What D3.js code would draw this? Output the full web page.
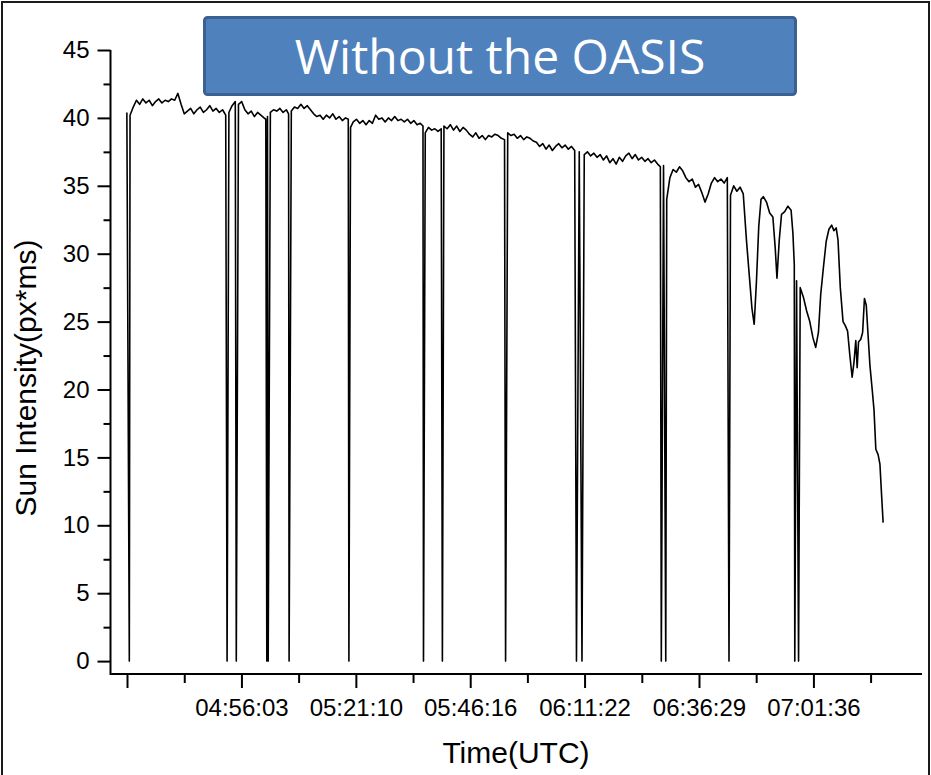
<!DOCTYPE html>
<html><head><meta charset="utf-8">
<script src="https://cdn.jsdelivr.net/npm/d3@7"></script>
<style>body{margin:0;background:#fff;}svg{display:block;}</style>
</head><body>
<svg id="chart" width="931" height="775"></svg>
<script>
// ---- DATA (time in minutes after 04:00 UTC) ----
const timeMin = [
  30.9, 31.6, 32.3, 33.0, 33.7, 34.4, 35.1, 35.8, 36.5, 37.2,
  37.9, 38.6, 39.3, 40.0, 40.7, 41.4, 42.1, 42.8, 43.5, 44.2,
  44.9, 45.6, 46.3, 47.0, 47.7, 48.4, 49.1, 49.8, 50.5, 51.2,
  51.9, 52.6, 53.3, 54.0, 54.7, 55.4, 56.1, 56.8, 57.5, 58.2,
  58.9, 59.6, 60.3, 61.0, 61.4, 61.77, 62.4, 63.1, 63.8, 64.5,
  65.2, 65.9, 66.4, 67.0, 67.7, 68.4, 69.1, 69.8, 70.5, 71.2,
  71.9, 72.6, 73.3, 74.0, 74.7, 75.4, 76.1, 76.8, 77.5, 78.2,
  78.9, 79.5, 80.0, 80.6, 81.3, 82.0, 82.7, 83.4, 84.1, 84.8,
  85.5, 86.2, 86.9, 87.6, 88.3, 89.0, 89.7, 90.4, 91.1, 91.8,
  92.5, 93.2, 93.9, 94.6, 95.3, 95.9, 96.4, 97.1, 97.8, 98.5,
  99.2, 99.9, 100.5, 101.2, 101.9, 102.6, 103.3, 104.0, 104.7, 105.4,
  106.1, 106.8, 107.5, 108.2, 108.9, 109.6, 110.3, 111.0, 111.7, 112.4,
  113.1, 113.8, 114.5, 115.2, 115.9, 116.6, 117.3, 118.0, 118.7, 119.4,
  120.1, 120.8, 121.5, 122.2, 122.9, 123.6, 124.3, 125.0, 125.7, 126.4,
  127.1, 127.8, 128.5, 129.2, 130.2, 131.3, 132.0, 132.7, 133.4, 134.1,
  134.8, 135.5, 136.2, 136.9, 137.6, 138.3, 139.0, 139.7, 140.4, 141.1,
  141.8, 142.5, 143.2, 143.9, 144.6, 145.3, 146.0, 146.7, 147.4, 148.0,
  148.7, 149.4, 150.1, 150.8, 151.5, 152.2, 152.9, 153.6, 154.3, 155.0,
  155.7, 156.4, 157.1, 157.8, 158.5, 159.2, 159.9, 160.6, 161.3, 162.0,
  162.7, 163.4, 164.1, 164.8, 165.5, 166.2, 166.9, 167.5, 168.1, 168.6,
  169.1, 169.6, 170.1, 170.6, 171.3, 172.0, 172.7, 173.2, 173.6, 174.1,
  174.6, 175.3, 176.0, 176.7, 177.1, 177.4, 177.9, 178.7, 179.4, 180.1,
  180.8, 181.5, 182.1, 182.7, 183.2, 183.8, 184.4, 185.0, 185.6, 186.1,
  186.6, 187.0, 187.5, 188.1, 188.6, 189.1, 189.6, 190.1, 190.5, 190.9,
  191.2, 191.5, 192.0, 192.4, 192.8, 193.2, 193.6, 194.0, 194.5, 194.9,
  195.3, 195.8, 196.2, 196.6, 196.9
];
const intensity = [
  40.4, 40.2, 40.8, 41.3, 41.0, 41.4, 41.1, 41.3, 40.9, 41.2,
  41.4, 41.1, 41.3, 41.2, 41.4, 41.3, 41.8, 41.0, 40.3, 40.5,
  40.7, 40.3, 40.6, 40.8, 40.4, 40.6, 40.9, 40.5, 40.7, 40.4,
  40.6, 40.2, 40.4, 40.9, 41.2, 41.0, 41.2, 40.6, 40.3, 40.5,
  40.1, 40.4, 40.2, 40.0, 39.9, 40.1, 40.4, 40.6, 40.5, 40.7,
  40.4, 40.6, 40.3, 40.5, 40.8, 40.7, 41.0, 40.7, 40.9, 40.6,
  40.3, 40.1, 40.2, 39.9, 40.2, 40.0, 40.3, 39.9, 40.1, 39.8,
  40.0, 39.9, 39.3, 39.7, 39.9, 39.6, 39.8, 39.5, 39.8, 39.6,
  40.2, 39.9, 40.0, 39.7, 40.0, 39.8, 40.1, 39.8, 39.9, 39.7,
  39.9, 39.6, 39.8, 39.5, 39.6, 39.4, 38.9, 39.3, 39.1, 39.2,
  39.0, 39.2, 39.4, 39.2, 39.5, 39.1, 39.4, 39.0, 39.3, 39.1,
  38.8, 38.6, 38.9, 38.5, 38.7, 38.4, 38.7, 38.6, 38.8, 38.7,
  38.5, 38.4, 38.9, 38.7, 38.8, 38.5, 38.7, 38.4, 38.6, 38.5,
  38.3, 38.2, 37.9, 38.1, 37.7, 38.0, 37.6, 37.9, 38.1, 37.8,
  38.0, 37.7, 37.9, 37.6, 37.5, 37.3, 37.5, 37.2, 37.4, 37.1,
  37.3, 36.9, 37.2, 36.7, 37.0, 36.6, 37.1, 36.8, 37.2, 37.4,
  37.0, 37.3, 36.9, 37.1, 36.8, 37.0, 36.7, 36.9, 36.6, 36.4,
  36.5, 34.0, 35.6, 36.2, 36.0, 36.4, 36.1, 35.6, 35.3, 35.5,
  34.9, 35.1, 34.5, 33.8, 34.4, 35.2, 35.6, 35.3, 35.5, 35.2,
  35.6, 34.3, 35.0, 34.6, 34.9, 34.4, 31.0, 28.5, 26.0, 24.8,
  28.0, 32.0, 34.0, 34.2, 33.8, 33.0, 32.7, 30.5, 28.2, 31.0,
  32.9, 33.1, 33.5, 33.2, 31.5, 29.2, 28.0, 27.5, 26.8, 25.8,
  25.0, 23.8, 23.1, 24.2, 27.0, 29.0, 30.9, 31.8, 32.1, 31.7,
  31.9, 31.0, 27.5, 25.0, 24.7, 24.3, 22.5, 20.9, 22.0, 23.6,
  21.6, 23.5, 23.7, 24.2, 26.7, 26.2, 24.0, 21.8, 20.0, 18.5,
  15.6, 15.2, 14.5, 12.0, 10.2
];
// samples where the sensor dropped to zero
const dropoutTimes = [31.44, 52.90, 54.92, 61.62, 61.92, 66.51, 79.64, 96.01, 100.16,
  114.03, 129.59, 130.80, 148.21, 149.19, 163.07, 177.51, 178.34];
const dropoutValue = 0;

const majorTickTimes  = ["04:30:56", "04:56:03", "05:21:10", "05:46:16", "06:11:22", "06:36:29", "07:01:36"];
const majorTickLabels = ["", "04:56:03", "05:21:10", "05:46:16", "06:11:22", "06:36:29", "07:01:36"];
const minorTickTimes  = ["04:43:30", "05:08:36", "05:33:43", "05:58:49", "06:23:56", "06:49:02", "07:14:09"];
const xAxisRange = ["04:27:12", "07:25:26"];
const yMajorTicks = [0, 5, 10, 15, 20, 25, 30, 35, 40, 45];
const yMinorTicks = [2.5, 7.5, 12.5, 17.5, 22.5, 27.5, 32.5, 37.5, 42.5];
const yAxisRange = [-0.95, 45];

const chartTitle = "Without the OASIS";
const xTitle = "Time(UTC)";
const yTitle = "Sun Intensity(px*ms)";

// ---- DRAWING ----
const toMin = s => { const [h, m, sec] = s.split(":").map(Number); return (h - 4) * 60 + m + sec / 60; };

const svg = d3.select("#chart");
const font = "'Liberation Sans', Arial, sans-serif";

const x = d3.scaleLinear().domain(xAxisRange.map(toMin)).range([110, 922]);
const y = d3.scaleLinear().domain(yAxisRange).range([674, 50]);

// outer frame
svg.append("path").attr("d", "M2,780V2H929V780")
  .attr("fill", "none").attr("stroke", "#1a1a1a").attr("stroke-width", 2);

// data line
const pts = timeMin.map((t, i) => ({t, v: intensity[i]}))
  .concat(dropoutTimes.map(t => ({t, v: dropoutValue})))
  .sort((a, b) => a.t - b.t);
svg.append("path").datum(pts)
  .attr("d", d3.line().x(d => x(d.t)).y(d => y(d.v)))
  .attr("fill", "none").attr("stroke", "#000").attr("stroke-width", 1.6)
  .attr("stroke-linejoin", "round");

// Y axis
const yAxisG = svg.append("g").attr("transform", "translate(110.5,0)")
  .call(d3.axisLeft(y).tickValues(yMajorTicks).tickSize(13).tickPadding(8).tickFormat(d3.format("d")));
yAxisG.select(".domain").remove();
yAxisG.selectAll(".tick line").attr("stroke", "#000").attr("stroke-width", 2);
yAxisG.selectAll(".tick text").attr("font-family", font).attr("font-size", 24).attr("fill", "#000");
const yMinorG = svg.append("g").attr("transform", "translate(110.5,0)")
  .call(d3.axisLeft(y).tickValues(yMinorTicks).tickSize(7).tickFormat(""));
yMinorG.select(".domain").remove();
yMinorG.selectAll(".tick line").attr("stroke", "#000").attr("stroke-width", 2);

// X axis
const majorVals = majorTickTimes.map(toMin);
const xAxisG = svg.append("g").attr("transform", "translate(0,674)")
  .call(d3.axisBottom(x).tickValues(majorVals).tickSize(14).tickPadding(11)
    .tickFormat((d, i) => majorTickLabels[i]));
xAxisG.select(".domain").remove();
xAxisG.selectAll(".tick line").attr("stroke", "#000").attr("stroke-width", 2);
xAxisG.selectAll(".tick text").attr("font-family", font).attr("font-size", 24).attr("fill", "#000");
const xMinorG = svg.append("g").attr("transform", "translate(0,674)")
  .call(d3.axisBottom(x).tickValues(minorTickTimes.map(toMin)).tickSize(9).tickFormat(""));
xMinorG.select(".domain").remove();
xMinorG.selectAll(".tick line").attr("stroke", "#000").attr("stroke-width", 2);

// axis lines
svg.append("path")
  .attr("d", `M${x.range()[0] + 0.5},${y(45)}V${y.range()[0]}H${x.range()[1]}`)
  .attr("fill", "none").attr("stroke", "#000").attr("stroke-width", 2);

// axis titles
svg.append("text").attr("x", 516).attr("y", 763).attr("text-anchor", "middle")
  .attr("font-family", font).attr("font-size", 30).attr("fill", "#000").text(xTitle);
svg.append("text").attr("transform", "translate(36,378) rotate(-90)").attr("text-anchor", "middle")
  .attr("font-family", font).attr("font-size", 30).attr("fill", "#000").text(yTitle);

// title box
svg.append("rect").attr("x", 204.5).attr("y", 17.5).attr("width", 591).attr("height", 77).attr("rx", 3)
  .attr("fill", "#4F81BD").attr("stroke", "#3B6190").attr("stroke-width", 3);
svg.append("text").attr("x", 500).attr("y", 74).attr("text-anchor", "middle")
  .attr("font-family", "'Open Sans', 'Noto Sans', sans-serif").attr("font-size", 48)
  .attr("fill", "#fff").text(chartTitle);
</script>
</body></html>
